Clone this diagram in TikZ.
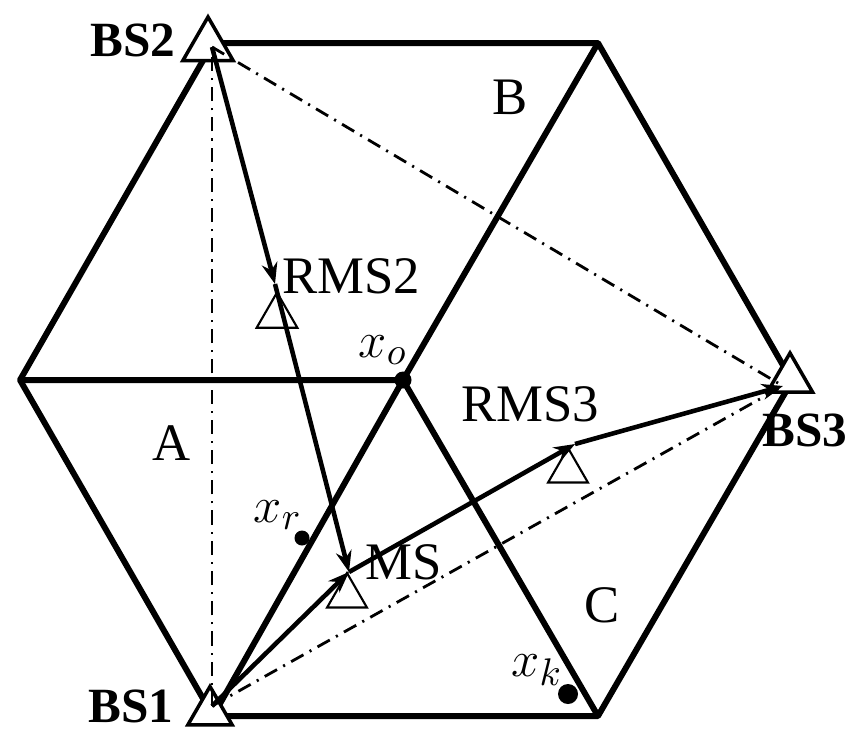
\documentclass[tikz,border=0pt]{standalone}
\usepackage{fontspec}
\setmainfont{Liberation Serif}
\usetikzlibrary{arrows.meta,shapes.geometric}

\begin{document}
\begin{tikzpicture}[
  x=0.01cm, y=-0.01cm,
  every node/.style={font=\fontsize{15}{18}\selectfont},
  cell/.style={line width=1.7pt,line join=round},
  link/.style={line width=1.3pt,-{Stealth[length=6pt,width=4.5pt]}},
  sight/.style={line width=0.8pt,dash pattern=on 4pt off 2pt on 0.6pt off 2pt},
  station/.style={draw,regular polygon,regular polygon sides=3,inner sep=0pt,outer sep=0pt,fill=white,line width=1pt,minimum size=#1},
  relay/.style={draw,regular polygon,regular polygon sides=3,inner sep=0pt,outer sep=0pt,line width=0.6pt,minimum size=#1},
  spot/.style={circle,fill,inner sep=0pt,minimum size=#1},
  bslabel/.style={font=\fontsize{14}{17}\selectfont\bfseries}
]
  \useasboundingbox (0,0) rectangle (858,738);

  % hexagon corners
  \coordinate (L)  at (20,380);
  \coordinate (TL) at (213,43);
  \coordinate (TR) at (598,43);
  \coordinate (R)  at (792,381);
  \coordinate (BR) at (598,716);
  \coordinate (BL) at (213,716);
  \node[spot=0.17cm] (xo) at (403,380) {};

  \draw[cell] (L) -- (TL) -- (TR) -- (R) -- (BR) -- (BL) -- cycle;
  \draw[cell] (L) -- (xo.center) -- (TR);
  \draw[cell] (BL) -- (xo.center) -- (BR);

  % points on the links
  \coordinate (bs1) at (212,706);
  \coordinate (bs2) at (212,47);
  \coordinate (bs3) at (783,386);
  \coordinate (rms2) at (275,284);
  \coordinate (rms3) at (575,444);
  \coordinate (ms) at (349,572);

  % stations
  \node[station=0.58cm] (bs2tri) at (208,46) {};
  \node[station=0.51cm] (bs1tri) at (210,712) {};
  \node[station=0.52cm] (bs3tri) at (790,379) {};
  \node[relay=0.47cm] (rms2tri) at (277,316) {};
  \node[relay=0.46cm] (mstri) at (347,596) {};
  \node[relay=0.46cm] (rms3tri) at (568,471) {};

  % lines of sight
  \draw[sight] (bs1) -- (bs2);
  \draw[sight] (bs2) -- (bs3);
  \draw[sight] (bs1) -- (bs3);

  % relayed links
  \draw[link] (bs2) -- (rms2);
  \draw[link] (rms2) -- (ms);
  \draw[link] (bs1) -- (ms);
  \draw[link] (ms) -- (rms3);
  \draw[link] (rms3) -- (bs3);

  \node[spot=0.15cm] (xr) at (302,538) {};
  \node[spot=0.2cm] (xk) at (568,694) {};

  % labels
  \node[bslabel,anchor=east] (bs2lab) at (188,40) {BS2};
  \node[bslabel,anchor=east] (bs1lab) at (186,706) {BS1};
  \node[bslabel,anchor=west] (bs3lab) at (750,430) {BS3};
  \node[anchor=west] (rms2lab) at (270,276) {RMS2};
  \node (rms3lab) at (530,404) {RMS3};
  \node[anchor=west] (mslab) at (353,562) {MS};
  \node (alab) at (172,443) {A};
  \node (blab) at (510,97) {B};
  \node (clab) at (602,605) {C};
  \node (xolab) at (383,350) {$x_o$};
  \node (xrlab) at (278,515) {$x_r$};
  \node (xklab) at (537,670) {$x_k$};
\end{tikzpicture}
\end{document}
